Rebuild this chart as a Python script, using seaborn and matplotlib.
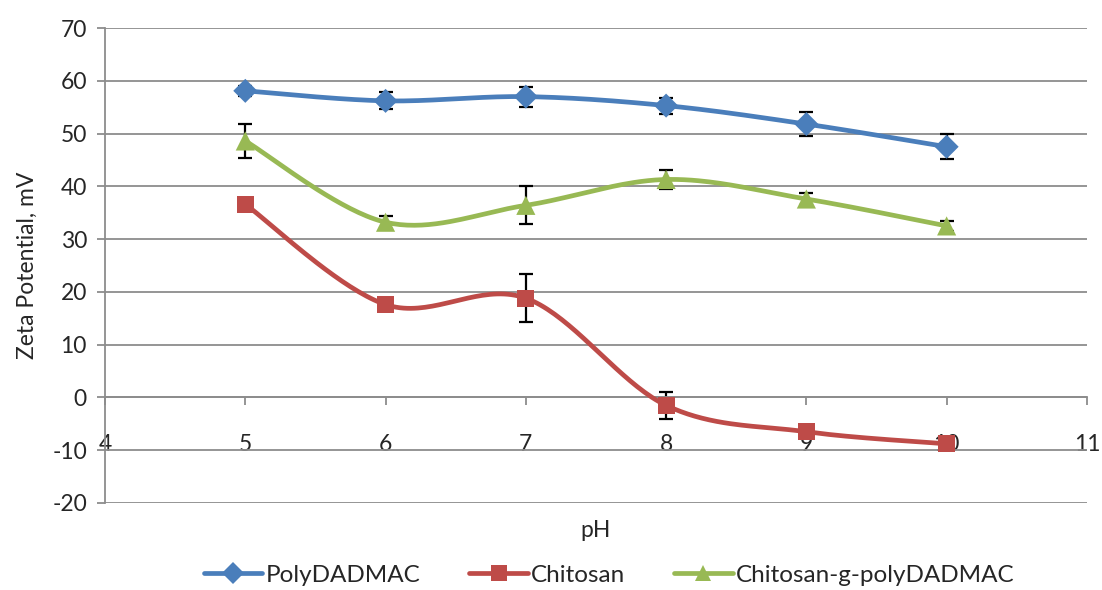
import numpy as np
import pandas as pd
import matplotlib
matplotlib.use("Agg")
import matplotlib.pyplot as plt
from matplotlib.lines import Line2D
import seaborn as sns

# pH values and measured zeta potentials (mV) with standard deviations
ph = [5, 6, 7, 8, 9, 10]
poly_dadmac = [58.1, 56.2, 57.0, 55.3, 51.8, 47.5]
poly_dadmac_err = [0.9, 1.6, 1.9, 1.5, 2.3, 2.4]
chitosan = [36.6, 17.6, 18.8, -1.5, -6.5, -8.8]
chitosan_err = [0.6, 0.8, 4.6, 2.6, 0.7, 0.6]
graft = [48.6, 33.2, 36.4, 41.3, 37.6, 32.5]
graft_err = [3.3, 1.2, 3.6, 1.8, 1.2, 1.0]

series_names = ["PolyDADMAC", "Chitosan", "Chitosan-g-polyDADMAC"]
colors = ["#4A7EBB", "#BE4B48", "#98B954"]
markers = ["D", "s", "^"]
marker_sizes = [150, 150, 190]

sns.set_style("white")
plt.rcParams["font.family"] = ["Lato", "DejaVu Sans"]
plt.rcParams["axes.unicode_minus"] = False

fig = plt.figure(figsize=(11.02, 5.90), dpi=100)
ax = fig.add_axes([0.0953, 0.1475, 0.891, 0.805])


def smooth_curve(x, y, n=40):
    """Bezier smoothing through every point (Catmull-Rom style tangents)."""
    x = np.asarray(x, float)
    y = np.asarray(y, float)
    pts = np.column_stack([x, y])
    out = []
    for i in range(len(pts) - 1):
        p0 = pts[i - 1] if i > 0 else pts[i]
        p1 = pts[i]
        p2 = pts[i + 1]
        p3 = pts[i + 2] if i + 2 < len(pts) else pts[i + 1]
        c1 = p1 + (p2 - p0) / 6.0
        c2 = p2 - (p3 - p1) / 6.0
        t = np.linspace(0, 1, n)[:, None]
        seg = ((1 - t) ** 3) * p1 + 3 * ((1 - t) ** 2) * t * c1 + 3 * (1 - t) * t ** 2 * c2 + t ** 3 * p2
        out.append(seg if i == 0 else seg[1:])
    seg_all = np.vstack(out)
    return seg_all[:, 0], seg_all[:, 1]


frames = []
for name, vals, errs in zip(series_names, [poly_dadmac, chitosan, graft],
                            [poly_dadmac_err, chitosan_err, graft_err]):
    frames.append(pd.DataFrame({"pH": ph, "zeta": vals, "err": errs, "series": name}))
df = pd.concat(frames, ignore_index=True)

for name, color in zip(series_names, colors):
    sub = df[df["series"] == name]
    ax.errorbar(sub["pH"], sub["zeta"], yerr=sub["err"], fmt="none", ecolor="black",
                elinewidth=1.6, capsize=5, capthick=1.6, zorder=2)
    sx, sy = smooth_curve(sub["pH"], sub["zeta"])
    ax.plot(sx, sy, color=color, lw=3.4, solid_capstyle="round", zorder=3)

sns.scatterplot(data=df, x="pH", y="zeta", hue="series", style="series",
                hue_order=series_names, style_order=series_names,
                palette=dict(zip(series_names, colors)),
                markers=dict(zip(series_names, markers)),
                size="series", sizes=dict(zip(series_names, marker_sizes)),
                linewidth=0, legend=False, ax=ax, zorder=4)

ax.set_xlim(4, 11)
ax.set_ylim(-20, 70)
ax.set_xticks(range(4, 12))
ax.set_yticks(range(-20, 71, 10))
ax.yaxis.grid(True, color="#8C8C8C", lw=1.3)
ax.xaxis.grid(False)
ax.set_axisbelow(True)

for side in ["top", "right"]:
    ax.spines[side].set_visible(False)
ax.spines["left"].set_color("#8C8C8C")
ax.spines["left"].set_linewidth(1.3)
ax.spines["bottom"].set_position(("data", 0))
ax.spines["bottom"].set_color("#8C8C8C")
ax.spines["bottom"].set_linewidth(1.3)

ax.tick_params(axis="y", direction="out", length=6, width=1.3, color="#8C8C8C",
               labelsize=16.5, pad=7, left=True)
ax.tick_params(axis="x", direction="out", length=6, width=1.3, color="#8C8C8C",
               labelsize=16.5, pad=20, bottom=True)

ax.set_xlabel("pH", fontsize=16.5)
ax.xaxis.set_label_coords(0.5, -0.035)
ax.set_ylabel("Zeta Potential, mV", fontsize=16.5, labelpad=10)

handles = [Line2D([0], [0], color=c, lw=3.4, marker=m, markersize=11 if m != "^" else 12,
                  markeredgewidth=0) for c, m in zip(colors, markers)]
fig.legend(handles, series_names, loc="lower center", ncol=3, frameon=False,
           fontsize=17.5, bbox_to_anchor=(0.553, -0.03), handlelength=2.4,
           columnspacing=2.0, handletextpad=0.15)

fig.savefig("out.png", dpi=100)
